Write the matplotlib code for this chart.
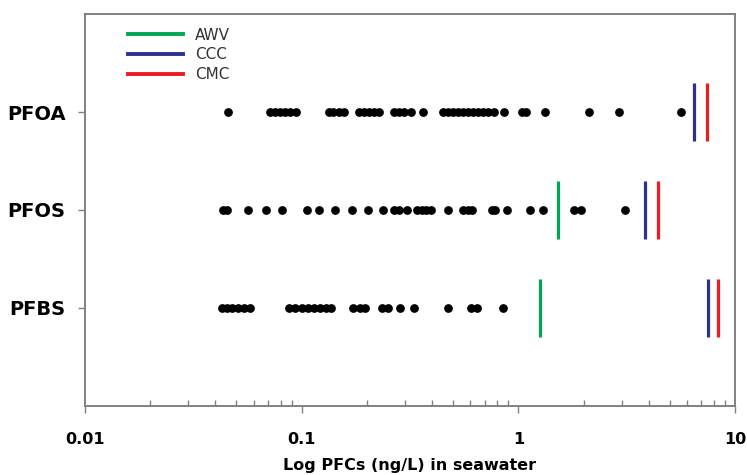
import matplotlib
matplotlib.use("Agg")
import matplotlib.pyplot as plt
from matplotlib.ticker import LogLocator, NullFormatter, FixedFormatter, FixedLocator

# measured concentrations (ng/L)
pfoa = [0.0458, 0.0713, 0.0752, 0.0793, 0.0836, 0.0881, 0.0938, 0.133, 0.140,
        0.148, 0.156, 0.183, 0.194, 0.205, 0.216, 0.228, 0.267, 0.282, 0.297,
        0.320, 0.363, 0.448, 0.472, 0.498, 0.525, 0.553, 0.583, 0.615, 0.649,
        0.684, 0.728, 0.768, 0.862, 1.04, 1.08, 1.33, 2.12, 2.91, 5.65]
pfos = [0.0433, 0.0453, 0.0565, 0.0684, 0.0809, 0.1054, 0.120, 0.143, 0.171,
        0.203, 0.238, 0.267, 0.282, 0.306, 0.340, 0.359, 0.374, 0.395, 0.472,
        0.553, 0.583, 0.608, 0.752, 0.776, 0.890, 1.135, 1.30, 1.81, 1.95, 3.10]
pfbs = [0.0430, 0.0453, 0.0477, 0.0508, 0.0542, 0.0577, 0.0872, 0.0929, 0.100,
        0.107, 0.114, 0.121, 0.129, 0.137, 0.173, 0.185, 0.197, 0.235, 0.251,
        0.285, 0.330, 0.472, 0.602, 0.642, 0.845]

compounds = ["PFBS", "PFOS", "PFOA"]
data = [pfbs, pfos, pfoa]

# guideline values (None = not available)
awv = [1.26, 1.52, None]
ccc = [7.52, 3.83, 6.49]
cmc = [8.36, 4.43, 7.44]

green = "#00a651"
blue = "#2e3192"
red = "#ed1c24"
gray = "#808080"

fig = plt.figure(figsize=(7.47, 4.75), dpi=100)
ax = fig.add_axes([0.1138, 0.1453, 0.8702, 0.8252])

for i, vals in enumerate(data):
    y = i + 1
    ax.plot(vals, [y] * len(vals), "o", color="black", markersize=6.3,
            markeredgewidth=0, zorder=3)
    if awv[i] is not None:
        ax.vlines(awv[i], y - 0.3, y + 0.3, color=green, lw=2.3)
    ax.vlines(ccc[i], y - 0.3, y + 0.3, color=blue, lw=2.3)
    ax.vlines(cmc[i], y - 0.3, y + 0.3, color=red, lw=2.3)

ax.set_xscale("log")
ax.set_xlim(0.01, 10)
ax.set_ylim(0, 4)

ax.xaxis.set_major_locator(FixedLocator([0.01, 0.1, 1, 10]))
ax.xaxis.set_major_formatter(FixedFormatter(["0.01", "0.1", "1", "10"]))
ax.xaxis.set_minor_locator(LogLocator(base=10, subs=range(2, 10)))
ax.xaxis.set_minor_formatter(NullFormatter())
ax.tick_params(axis="x", which="major", direction="out", length=5, width=1,
               color=gray, pad=14, labelsize=11.5)
ax.tick_params(axis="x", which="minor", direction="in", length=4, width=1,
               color=gray)
for t in ax.get_xticklabels():
    t.set_fontweight("bold")

ax.set_yticks([1, 2, 3])
ax.set_yticklabels(compounds, fontsize=14, fontweight="bold")
ax.tick_params(axis="y", direction="out", length=5, width=1, color=gray, pad=9)

for s in ax.spines.values():
    s.set_color(gray)
    s.set_linewidth(1.4)

ax.set_xlabel("Log PFCs (ng/L) in seawater", fontsize=11.5, fontweight="bold",
              labelpad=8)

# legend
h1, = ax.plot([], [], color=green, lw=2.8, label="AWV")
h2, = ax.plot([], [], color=blue, lw=2.8, label="CCC")
h3, = ax.plot([], [], color=red, lw=2.8, label="CMC")
ax.legend(handles=[h1, h2, h3], loc="upper left", bbox_to_anchor=(0.045, 1.0),
          frameon=False, fontsize=11, handlelength=3.6, handletextpad=0.8,
          labelspacing=0.3, labelcolor="#333333")

fig.savefig("out.png", dpi=100)
